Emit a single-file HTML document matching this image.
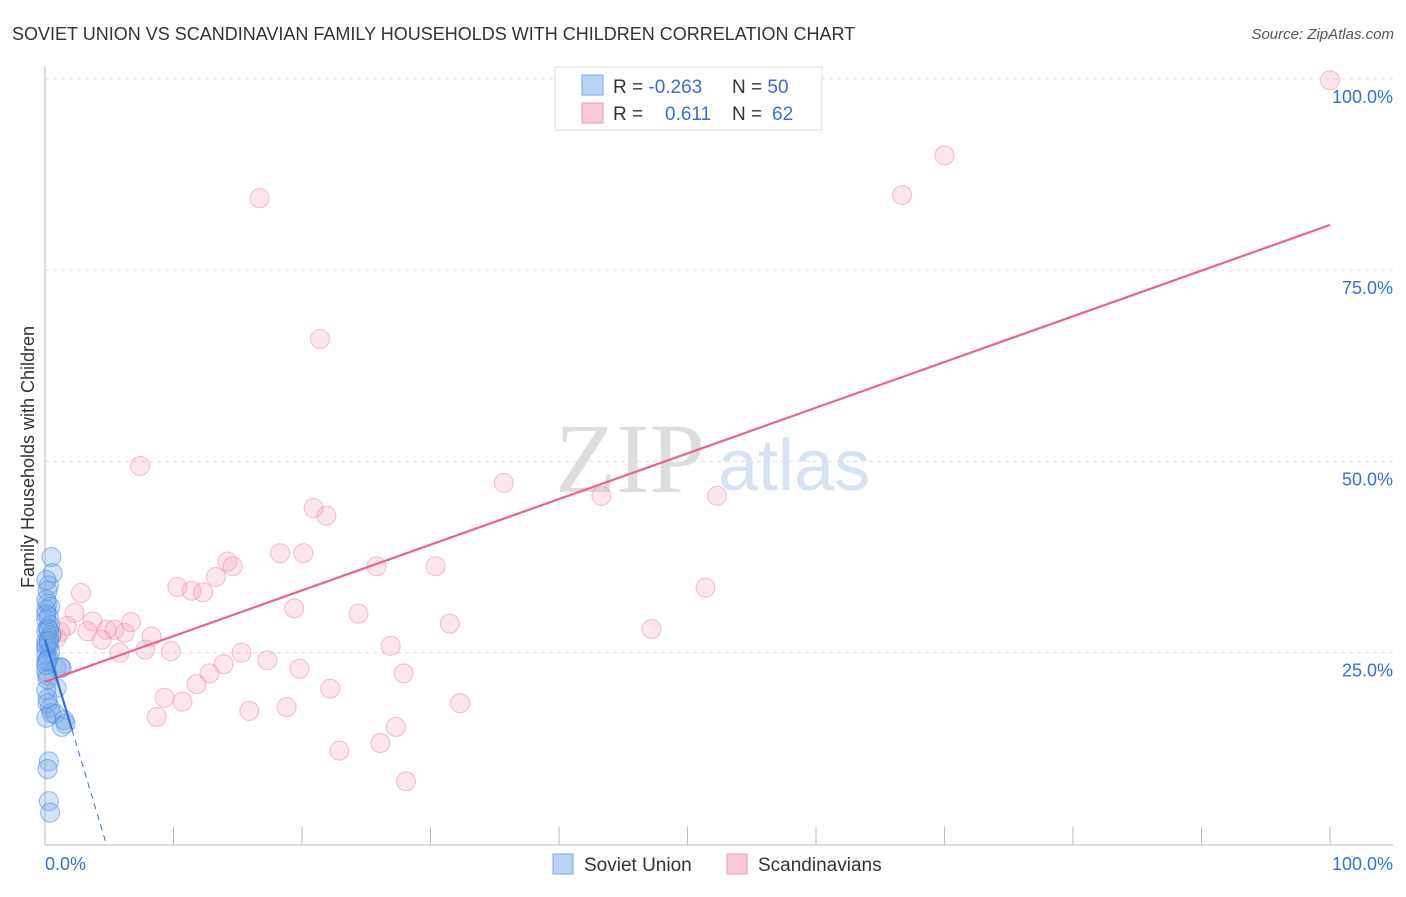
<!DOCTYPE html>
<html><head><meta charset="utf-8"><style>
body{margin:0;background:#fff;font-family:"Liberation Sans",sans-serif}
</style></head><body>
<svg width="1406" height="892" xmlns="http://www.w3.org/2000/svg" font-family="Liberation Sans, sans-serif">
<text x="12" y="40" font-size="18" fill="#333">SOVIET UNION VS SCANDINAVIAN FAMILY HOUSEHOLDS WITH CHILDREN CORRELATION CHART</text>
<text x="1394" y="39" font-size="15" fill="#555" font-style="italic" text-anchor="end">Source: ZipAtlas.com</text>
<text x="555" y="492" font-size="100" fill="#ddd" font-family="Liberation Serif, serif">ZIP</text>
<text x="718" y="490" font-size="72" fill="#d4e2f3">atlas</text>
<g id="grid"></g>
<g id="axes"></g>
<text transform="translate(34,457) rotate(-90)" font-size="18" fill="#333" text-anchor="middle">Family Households with Children</text>
<g id="pts"></g>
<g id="lines"></g>
<g>
<rect x="555" y="67" width="267" height="63" fill="#fff" stroke="#ddd"/>
<rect x="582" y="75" width="21" height="20" fill="#b8d3f5" stroke="#7aa9e6"/>
<rect x="582" y="103" width="21" height="20" fill="#fac8d7" stroke="#ee9ab5"/>
<text x="613" y="93" font-size="19" fill="#333">R = <tspan fill="#3a6fd0">-0.263</tspan><tspan x="732">N = </tspan><tspan fill="#3a6fd0">50</tspan></text>
<text x="613" y="120" font-size="19" fill="#333">R = <tspan x="665" fill="#3a6fd0">0.611</tspan><tspan x="732">N = </tspan><tspan x="772" fill="#3a6fd0">62</tspan></text>
</g>
<g>
<rect x="553" y="854" width="20" height="20" fill="#b8d3f5" stroke="#7aa9e6"/>
<text x="584" y="871" font-size="19" fill="#333">Soviet Union</text>
<rect x="727" y="854" width="20" height="20" fill="#fac8d7" stroke="#ee9ab5"/>
<text x="758" y="871" font-size="19" fill="#333">Scandinavians</text>
</g>
</svg>
<script>
const yTicks=[25,50,75,100];
const xTickLabels=["0.0%","100.0%"];
const pinkX=[100,70.0,66.7,16.7,21.4,7.4,35.7,43.3,52.3,20.9,21.9,18.3,20.1,14.2,14.6,25.8,30.4,13.3,10.3,11.4,12.3,51.4,2.8,19.4,24.4,2.3,3.7,6.7,31.5,1.7,1.2,3.3,4.8,5.4,6.2,47.2,0.5,0.9,4.4,8.3,26.9,5.8,7.8,9.8,15.3,17.3,13.9,12.8,19.8,27.9,11.8,22.2,9.3,10.7,32.3,15.9,18.8,8.7,27.3,22.9,26.1,28.1];
const pinkY=[99.8,90.0,84.8,84.4,66.0,49.4,47.2,45.5,45.5,43.9,42.9,38.0,38.0,36.9,36.3,36.3,36.3,34.9,33.6,33.1,32.9,33.5,32.8,30.8,30.1,30.2,29.1,29.0,28.8,28.5,27.7,27.8,28.0,28.0,27.6,28.1,27.2,26.9,26.7,27.1,25.9,25.0,25.4,25.2,25.0,24.0,23.5,22.3,22.9,22.3,20.9,20.3,19.1,18.6,18.4,17.4,17.9,16.6,15.3,12.2,13.2,8.2];
const blueX=[0.5,0.6,0.3,0.2,0.2,0.4,0.1,0.3,0.1,0.4,0.2,0.1,0.5,0.3,0.1,0.3,0.1,0.4,0.1,0.3,0.1,1.2,0.9,1.3,0.1,0.2,0.9,0.1,0.2,0.4,0.5,0.1,0.8,1.5,1.6,1.3,0.3,0.2,0.3,0.4,0.1,0.1,0.1,0.1,0.2,0.3,0.1,0.2,0.3,0.2];
const blueY=[37.5,35.4,33.8,33.1,31.4,31.0,30.6,29.7,29.3,28.6,28.2,27.8,27.3,26.9,26.5,26.0,25.6,25.1,24.7,24.3,23.8,23.1,23.0,23.0,22.5,22.0,20.4,20.1,18.4,17.8,17.1,16.5,17.0,16.2,15.7,15.3,10.8,9.8,5.6,4.1,31.9,34.5,26.0,23.4,21.5,28.0,30.0,24.0,26.5,19.0];
const pinkLine=[21.2,80.9];
const blueLine=[26.7,-5.6];
const NS="http://www.w3.org/2000/svg";
const X=v=>45+v*12.85, Y=v=>844-v*7.652;
function mk(t,a,p){const e=document.createElementNS(NS,t);for(const k in a)e.setAttribute(k,a[k]);p.appendChild(e);return e;}
const grid=document.getElementById('grid'),axes=document.getElementById('axes'),pts=document.getElementById('pts'),lines=document.getElementById('lines');
yTicks.forEach(t=>{
 const l=mk('line',{x1:45,x2:1393,y1:Y(t),y2:Y(t),stroke:'#ddd','stroke-dasharray':'4,4'},grid);
 
 
 const tx=mk('text',{x:1393,y:Y(t)+24,'font-size':18,fill:'#3a6fd0','text-anchor':'end'},axes);
 tx.textContent=t.toFixed(1)+'%';
 
 
});
const ax=mk('line',{x1:45,x2:1393,y1:845,y2:845,stroke:'#bbb'},axes);


const ay=mk('line',{x1:45,x2:45,y1:67,y2:845,stroke:'#bbb'},axes);


for(let i=1;i<=10;i++){const t=mk('line',{x1:X(i*10),x2:X(i*10),y1:827,y2:845,stroke:'#bbb'},axes);
 
 }
const xl0=mk('text',{x:45,y:870,'font-size':18,fill:'#3a6fd0'},axes);xl0.textContent=xTickLabels[0];


const xl1=mk('text',{x:1393,y:870,'font-size':18,fill:'#3a6fd0','text-anchor':'end'},axes);xl1.textContent=xTickLabels[1];


pinkX.forEach((v,i)=>{const c=mk('circle',{cx:X(v),cy:Y(pinkY[i]),r:9.5,fill:'rgba(244,160,188,0.28)',stroke:'rgba(232,130,165,0.5)'},pts);
 
 });
blueX.forEach((v,i)=>{const c=mk('circle',{cx:X(v),cy:Y(blueY[i]),r:9.5,fill:'rgba(120,170,235,0.33)',stroke:'rgba(70,135,220,0.55)'},pts);
 
 });
const pl=mk('line',{x1:X(0),y1:Y(pinkLine[0]),x2:X(100),y2:Y(pinkLine[1]),stroke:'#e8648f','stroke-width':2.2},lines);


const bEnd=2.1, bZero=-blueLine[0]/blueLine[1];
const bl=mk('line',{x1:X(0),y1:Y(blueLine[0]),x2:X(bEnd),y2:Y(blueLine[0]+blueLine[1]*bEnd),stroke:'#2f6fd6','stroke-width':2.2},lines);


const bd=mk('line',{x1:X(bEnd),y1:Y(blueLine[0]+blueLine[1]*bEnd),x2:X(bZero),y2:Y(0),stroke:'#2f6fd6','stroke-width':1,'stroke-dasharray':'6,5'},lines);


</script>
</body></html>
